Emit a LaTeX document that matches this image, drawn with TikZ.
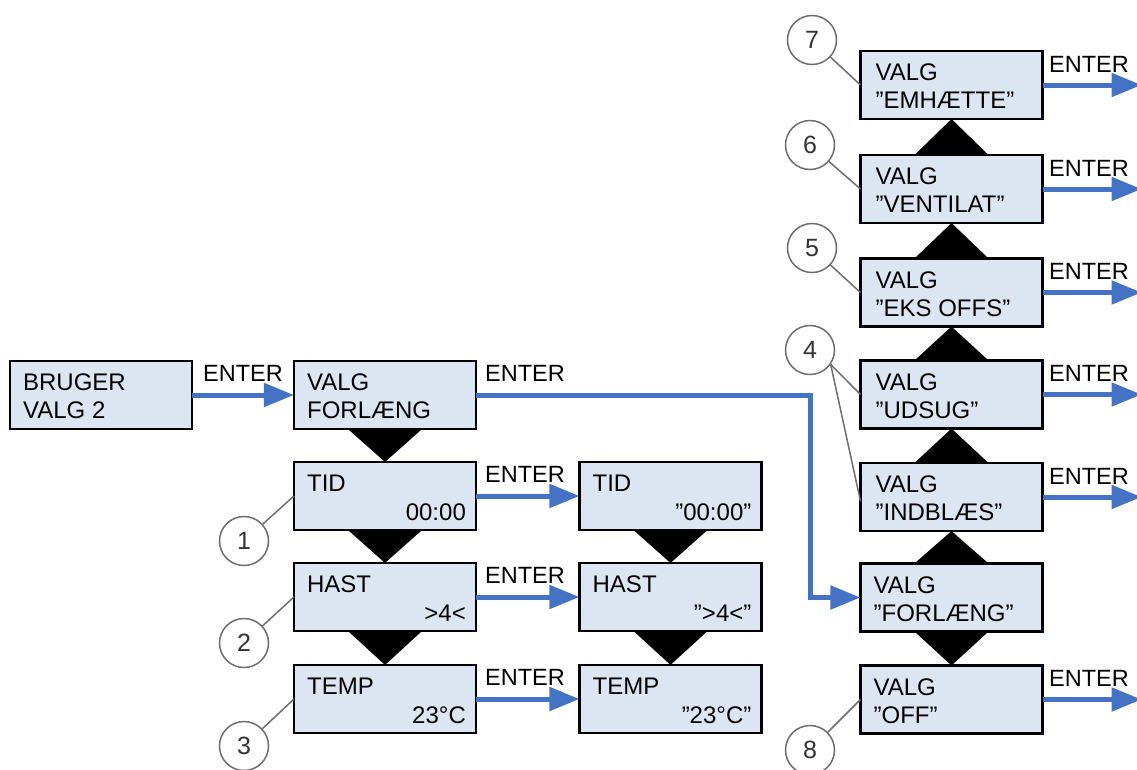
\documentclass[tikz,border=0pt]{standalone}
\usepackage{fontspec}
\setmainfont{Liberation Sans}
\usetikzlibrary{arrows.meta,calc}
\definecolor{boxfill}{RGB}{220,230,242}
\definecolor{arrblue}{RGB}{68,114,196}
\definecolor{leadgrey}{RGB}{110,110,110}
\newcommand\mybxL[4]{%
  \node[txt,anchor=base west] (#1t1) at ($(#1.north west)+(#4,30)$) {#2};
  \node[txt,anchor=base west] (#1t2) at ($(#1.north west)+(#4,58)$) {#3};}
\newcommand\mybxR[3]{%
  \node[txt,anchor=base west] (#1t1) at ($(#1.north west)+(13,30)$) {#2};
  \node[txt,anchor=base east] (#1t2) at ($(#1.north east)+(-10,59)$) {#3};}
\begin{document}
\begin{tikzpicture}[x=1pt,y=-1pt,
  scr/.style={draw=black,line width=2.6pt,fill=boxfill,minimum width=179.5pt,minimum height=65.5pt,inner sep=0pt},
  txt/.style={inner sep=0pt,font=\fontsize{24}{28}\selectfont},
  entr/.style={inner sep=0pt,anchor=base,font=\fontsize{23.5}{28}\selectfont},
  flow/.style={draw=arrblue,line width=5pt,-{Triangle[length=30pt,width=23pt]}},
  tri/.style={fill=black},
  num/.style={circle,draw=leadgrey,line width=1.5pt,minimum size=49pt,inner sep=0pt,font=\fontsize{25}{25}\selectfont,text=black!80},
  lead/.style={draw=leadgrey,line width=1.5pt}]
\clip (0,0) rectangle (1137,769);
\fill[white] (0,0) rectangle (1137,769);

% boxes (positions)
\path
  (101,395)   node[scr] (bruger) {}
  (385,395)   node[scr] (vforl) {}
  (385,496)   node[scr] (tid) {}
  (385,597)   node[scr] (hast) {}
  (385,699)   node[scr] (temp) {}
  (670.5,496) node[scr] (tid2) {}
  (670.5,597) node[scr] (hast2) {}
  (670.5,699) node[scr] (temp2) {}
  (951.5,85)  node[scr] (emh) {}
  (951.5,189) node[scr] (vent) {}
  (951.5,292.5) node[scr] (eks) {}
  (951.5,394.5) node[scr] (udsug) {}
  (951.5,497) node[scr] (indbl) {}
  (951.5,597.5) node[scr] (forl) {}
  (951.5,699.5) node[scr] (off) {};

% black triangles
\newcommand\mydown[2]{\fill[tri] ($(#1.south)+(-37,0)$) -- ($(#1.south)+(37,0)$) -- (#2.north) -- cycle;}
\newcommand\myup[2]{\fill[tri] ($(#1.north)+(-37,0)$) -- ($(#1.north)+(37,0)$) -- (#2.south) -- cycle;}
\mydown{vforl}{tid}
\mydown{tid}{hast}
\mydown{hast}{temp}
\mydown{tid2}{hast2}
\mydown{hast2}{temp2}
\myup{vent}{emh}
\myup{eks}{vent}
\myup{udsug}{eks}
\myup{indbl}{udsug}
\myup{forl}{indbl}
\mydown{forl}{off}

% redraw boxes on top of triangles
\foreach \b in {bruger,vforl,tid,hast,temp,tid2,hast2,temp2,emh,vent,eks,udsug,indbl,forl,off}{
  \draw[black,line width=2.6pt,fill=boxfill] (\b.north west) rectangle (\b.south east);
}

% texts
\mybxL{bruger}{BRUGER}{VALG 2}{13}
\mybxL{vforl}{VALG}{FORLÆNG}{13}
\mybxR{tid}{TID}{00:00}
\mybxR{hast}{HAST}{>4<}
\mybxR{temp}{TEMP}{23°C}
\mybxR{tid2}{TID}{”00:00”}
\mybxR{hast2}{HAST}{”>4<”}
\mybxR{temp2}{TEMP}{”23°C”}
\mybxL{emh}{VALG}{”EMHÆTTE”}{15}
\mybxL{vent}{VALG}{”VENTILAT”}{15}
\mybxL{eks}{VALG}{”EKS OFFS”}{15}
\mybxL{udsug}{VALG}{”UDSUG”}{15}
\mybxL{indbl}{VALG}{”INDBLÆS”}{15}
\mybxL{forl}{VALG}{”FORLÆNG”}{13}
\mybxL{off}{VALG}{”OFF”}{13}

% arrows
\draw[flow] (bruger.east) -- (vforl.west);
\coordinate (bend1) at (810,395);
\coordinate (bend2) at (810,597.5);
\draw[flow] (vforl.east) -- (bend1) -- (bend2) -- (forl.west);
\draw[flow] (tid.east) -- (tid2.west);
\draw[flow] (hast.east) -- (hast2.west);
\draw[flow] (temp.east) -- (temp2.west);
\foreach \b in {emh,vent,eks,udsug,indbl,off}{
  \coordinate (\b out) at ($(\b.east)+(99,0)$);
  \draw[flow] (\b.east) -- (\b out);
}

% ENTER labels
\node[entr] (l1) at (243,381) {ENTER};
\node[entr] (l2) at (525,381) {ENTER};
\node[entr] (l3) at (525,482) {ENTER};
\node[entr] (l4) at (525,583) {ENTER};
\node[entr] (l5) at (525,685) {ENTER};
\node[entr] (l6) at (1089,72) {ENTER};
\node[entr] (l7) at (1089,176) {ENTER};
\node[entr] (l8) at (1089,279.5) {ENTER};
\node[entr] (l9) at (1089,381.5) {ENTER};
\node[entr] (l10) at (1089,484) {ENTER};
\node[entr] (l11) at (1089,686.5) {ENTER};

% numbered circles
\node[num] (c1) at (244,541) {1};
\node[num] (c2) at (244,643) {2};
\node[num] (c3) at (244,746) {3};
\node[num] (c4) at (810,350) {4};
\node[num] (c5) at (812,248) {5};
\node[num] (c6) at (810,145) {6};
\node[num] (c7) at (812,40) {7};
\node[num] (c8) at (810,750) {8};
\draw[lead] (c1) -- (tid.west);
\draw[lead] (c2) -- (hast.west);
\draw[lead] (c3) -- (temp.west);
\draw[lead] (c4.-35) -- (udsug.west);
\draw[lead] (c4.-35) -- ($(indbl.west)+(0,4)$);
\draw[lead] (c5) -- (eks.west);
\draw[lead] (c6) -- (vent.west);
\draw[lead] (c7) -- (emh.west);
\draw[lead] (c8) -- (off.west);
\end{tikzpicture}
\end{document}
